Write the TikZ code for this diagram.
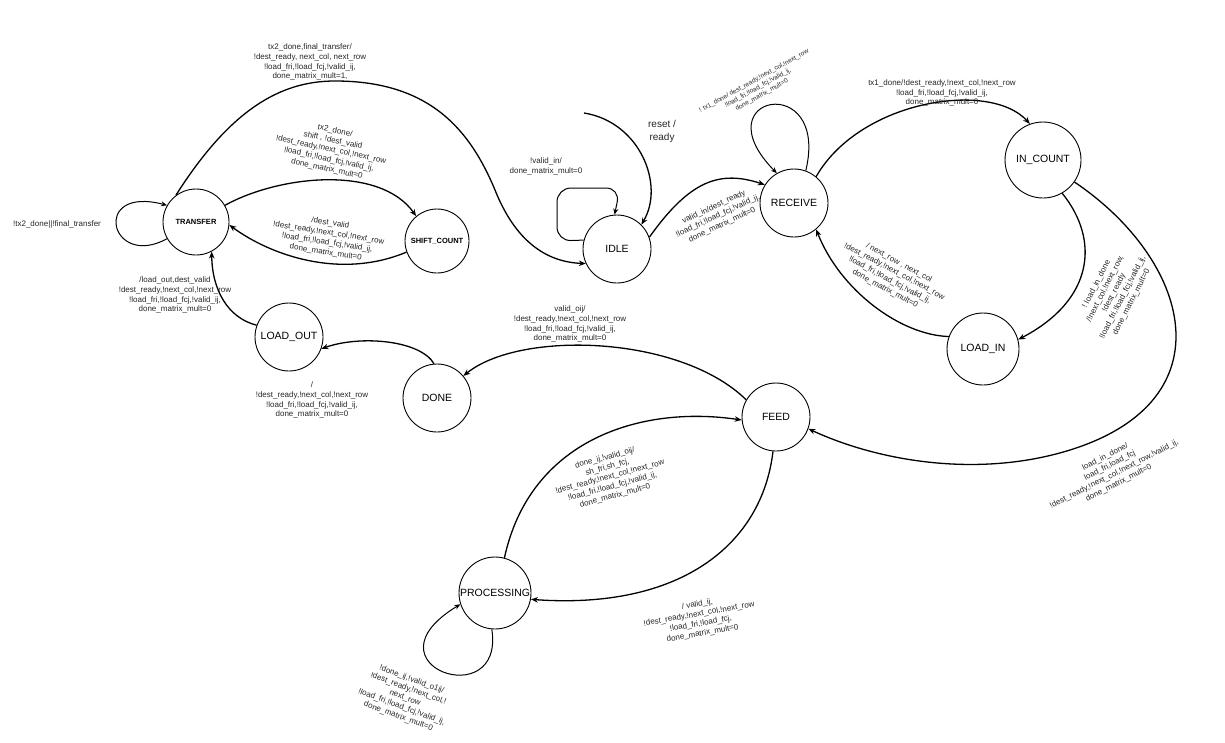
\documentclass[tikz,border=0pt]{standalone}
\usepackage{fontspec}
\setmainfont{Liberation Sans}
\usetikzlibrary{arrows.meta}
\tikzset{
  state/.style={circle, draw, line width=0.9pt, inner sep=0pt, font=\fontsize{10.5}{12}\selectfont},
  bstate/.style={state, font=\bfseries\fontsize{7.5}{9}\selectfont},
  lbl/.style={align=center, font=\fontsize{8}{9.8}\selectfont, text=black!85, inner sep=0pt},
  slbl/.style={align=center, font=\fontsize{6.5}{8}\selectfont, text=black!85, inner sep=0pt},
  conn/.style={line width=1.3pt, -{Stealth[length=7pt,width=5.5pt]}},
  loopc/.style={line width=1pt, -{Stealth[length=6pt,width=5pt]}},
}
\begin{document}
\begin{tikzpicture}[x=1pt,y=-1pt]
\useasboundingbox (0,0) rectangle (1225,742);
% states
\node[bstate, minimum size=66pt] (TR) at (196,222) {TRANSFER};
\node[bstate, minimum size=64pt] (SC) at (437,241) {SHIFT\_COUNT};
\node[state, minimum size=68pt] (IDLE) at (617,249) {IDLE};
\node[state, minimum size=68pt] (RE) at (794,203) {RECEIVE};
\node[state, minimum size=76pt] (IC) at (1043,160) {IN\_COUNT};
\node[state, minimum size=72pt] (LI) at (983,349) {LOAD\_IN};
\node[state, minimum size=68pt] (LO) at (289,337) {LOAD\_OUT};
\node[state, minimum size=68pt] (DN) at (437,398) {DONE};
\node[state, minimum size=68pt] (FD) at (776,417) {FEED};
\node[state, minimum size=72pt] (PR) at (495,593) {PROCESSING};
\coordinate (rs) at (584,113);

% connectors
\draw[loopc] (TR.210) .. controls (110,270) and (90,185) .. (TR.150);
\draw[conn] (TR.127) .. controls (230,110) and (280,81) .. (335,81)
   .. controls (430,81) and (470,130) .. (495,190)
   .. controls (515,240) and (545,262) .. (IDLE.205);
\draw[conn] (TR.30) .. controls (280,175) and (380,165) .. (SC.130);
\draw[conn] (SC.200) .. controls (340,280) and (270,255) .. (TR.-5);
\draw[conn] (LO.160) .. controls (228,318) and (212,290) .. (TR.-62);
\draw[conn] (DN.95) .. controls (420,340) and (360,335) .. (LO.-20);
\draw[conn] (FD.150) .. controls (680,335) and (520,330) .. (DN.40);
\draw[conn] (FD.-95) .. controls (762,545) and (680,610) .. (PR.-10);
\draw[conn] (PR.75) .. controls (530,440) and (640,405) .. (FD.185);
\draw[loopc] (PR.-95) .. controls (505,715) and (360,665) .. (PR.198);
\draw[loopc, rounded corners=14pt] (IDLE.165) -- (557,241) -- (557,188) -- (620,188) -- (IDLE.94);
\draw[conn] (rs) .. controls (640,122) and (665,185) .. (IDLE.45);
\draw[conn] (IDLE.20) .. controls (690,180) and (720,170) .. (RE.148);
\draw[loopc] (RE.70) .. controls (830,70) and (700,95) .. (RE.120);
\draw[conn] (RE.50) .. controls (860,100) and (990,80) .. (IC.110);
\draw[conn] (LI.160) .. controls (900,335) and (840,290) .. (RE.-50);
\draw[conn] (IC.-60) .. controls (1100,240) and (1094,300) .. (LI.15);
\draw[conn] (IC.-35) .. controls (1190,260) and (1230,400) .. (1070,450)
   .. controls (980,478) and (880,462) .. (FD.-20);

% labels
\node[lbl] (l1) at (57,224) {!tx2\_done||!final\_transfer};
\node[lbl] (l2) at (310,62) {tx2\_done,final\_transfer/\\!dest\_ready, next\_col, next\_row\\!load\_fri,!load\_fcj,!valid\_ij,\\done\_matrix\_mult=1,};
\node[lbl, rotate=-12] (l3) at (331,150) {tx2\_done/\\shift , !dest\_valid\\!dest\_ready,!next\_col,!next\_row\\!load\_fri,!load\_fcj,!valid\_ij,\\done\_matrix\_mult=0};
\node[lbl, rotate=-9] (l4) at (328,238) {/dest\_valid\\!dest\_ready,!next\_col,!next\_row\\!load\_fri,!load\_fcj,!valid\_ij,\\done\_matrix\_mult=0};
\node[lbl] (l5) at (175,295) {/load\_out,dest\_valid\\!dest\_ready,!next\_col,!next\_row\\!load\_fri,!load\_fcj,!valid\_ij,\\done\_matrix\_mult=0};
\node[lbl] (l6) at (312,400) {/\\!dest\_ready,!next\_col,!next\_row\\!load\_fri,!load\_fcj,!valid\_ij,\\done\_matrix\_mult=0};
\node[lbl] (l7) at (570,324) {valid\_oij/\\!dest\_ready,!next\_col,!next\_row\\!load\_fri,!load\_fcj,!valid\_ij,\\done\_matrix\_mult=0};
\node[lbl] (l8) at (546,166) {!valid\_in/\\done\_matrix\_mult=0};
\node[lbl, font=\fontsize{10}{13}\selectfont] (l9) at (662,131) {reset /\\ready};
\node[lbl, rotate=25] (l10) at (718,216) {valid\_in/dest\_ready\\!load\_fri,!load\_fcj,!valid\_ij,\\done\_matrix\_mult=0};
\node[slbl, rotate=29] (l11) at (758,88) {! tx1\_done/ dest\_ready,!next\_col,!next\_row\\!load\_fri,!load\_fcj,!valid\_ij,\\done\_matrix\_mult=0};
\node[lbl] (l12) at (942,93) {tx1\_done/!dest\_ready,!next\_col,!next\_row\\!load\_fri,!load\_fcj,!valid\_ij,\\done\_matrix\_mult=0};
\node[lbl, rotate=-28] (l13) at (892,276) {/ next\_row , next\_col\\!dest\_ready,!next\_col,!next\_row\\!load\_fri,!load\_fcj,!valid\_ij,\\done\_matrix\_mult=0};
\node[lbl, rotate=63] (l14) at (1114,293) {! load\_in\_done\\/!next\_col,!next\_row,\\!dest\_ready\\!load\_fri,!load\_fcj,!valid\_ij,\\done\_matrix\_mult=0};
\node[lbl, rotate=27] (l15) at (1112,470) {load\_in\_done/\\load\_fri,load\_fcj\\!dest\_ready,!next\_col,!next\_row,!valid\_ij,\\done\_matrix\_mult=0};
\node[lbl, rotate=10] (l16) at (700,619) {/ valid\_ij,\\!dest\_ready,!next\_col,!next\_row\\!load\_fri,!load\_fcj,\\done\_matrix\_mult=0};
\node[lbl, rotate=15] (l17) at (610,477) {done\_ij,!valid\_oij/\\sh\_fri,sh\_fcj,\\!dest\_ready,!next\_col,!next\_row\\!load\_fri,!load\_fcj,!valid\_ij,\\done\_matrix\_mult=0};
\node[lbl, rotate=-20] (l18) at (405,698) {!done\_ij,!valid\_o1ij/\\!dest\_ready,!next\_col,!\\next\_row\\!load\_fri,!load\_fcj,!valid\_ij,\\done\_matrix\_mult=0};
\end{tikzpicture}
\end{document}
